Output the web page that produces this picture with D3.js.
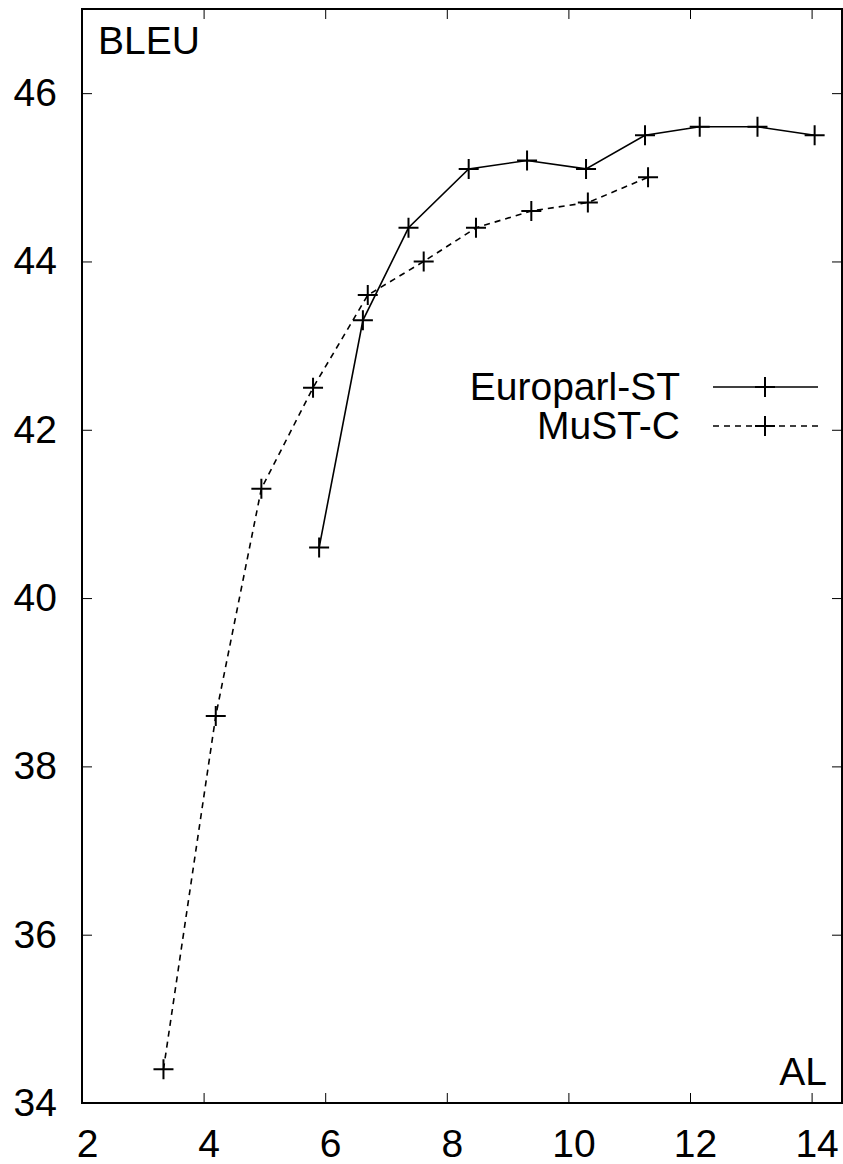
<!DOCTYPE html>
<html>
<head>
<meta charset="utf-8">
<script src="https://cdn.jsdelivr.net/npm/d3@7"></script>
<style>
  body { margin: 0; background: #fff; }
  text { font-family: "Liberation Sans", Arial, sans-serif; fill: #000; }
</style>
</head>
<body>
<div class="chart"></div>
<script>
"use strict";

// DATA ----------------------------
const seriesNames = ["Europarl-ST", "MuST-C"];
const europarlAL = [5.9, 6.62, 7.37, 8.36, 9.32, 10.29, 11.26, 12.16, 13.11, 14.05];
const europarlBLEU = [40.6, 43.3, 44.4, 45.1, 45.2, 45.1, 45.5, 45.6, 45.6, 45.5];
const mustcAL = [3.34, 4.2, 4.95, 5.8, 6.7, 7.62, 8.48, 9.39, 10.32, 11.31];
const mustcBLEU = [34.4, 38.6, 41.3, 42.5, 43.6, 44.0, 44.4, 44.6, 44.7, 45.0];
const xTicks = [2, 4, 6, 8, 10, 12, 14];
const yTicks = [34, 36, 38, 40, 42, 44, 46];

const W = 843, H = 1164;
const MARGIN = { top: 9, right: 1, bottom: 61, left: 82 };
const WIDTH = W - MARGIN.left - MARGIN.right,
  HEIGHT = H - MARGIN.top - MARGIN.bottom;
const FONT = 39;

const svg = d3
  .select(".chart")
  .append("svg")
  .attr("width", W)
  .attr("height", H)
  .append("g")
  .attr("transform", `translate(${MARGIN.left},${MARGIN.top})`);

const xScale = d3.scaleLinear().domain([2, 14.5]).range([0, WIDTH]);
const yScale = d3.scaleLinear().domain([34, 47]).range([HEIGHT, 0]);

// Axes (ticks point inward, mirrored on top/right)
function styleAxis(g) {
  g.select(".domain").remove();
  g.selectAll(".tick line").attr("stroke", "#000").attr("stroke-width", 1);
  g.selectAll(".tick text").style("font-size", FONT + "px").attr("fill", "#000");
}

svg.append("g")
  .attr("transform", `translate(0,${HEIGHT})`)
  .call(d3.axisBottom(xScale).tickValues(xTicks).tickSize(-10).tickPadding(26))
  .call(styleAxis)
  .selectAll(".tick text").attr("dx", 5);

svg.append("g")
  .call(d3.axisTop(xScale).tickValues(xTicks).tickSize(-10).tickFormat(""))
  .call(styleAxis);

svg.append("g")
  .call(d3.axisLeft(yScale).tickValues(yTicks).tickSize(-10).tickPadding(25))
  .call(styleAxis);

svg.append("g")
  .attr("transform", `translate(${WIDTH},0)`)
  .call(d3.axisRight(yScale).tickValues(yTicks).tickSize(-10).tickFormat(""))
  .call(styleAxis);

// Frame
svg.append("rect")
  .attr("x", 0).attr("y", 0)
  .attr("width", WIDTH).attr("height", HEIGHT)
  .attr("fill", "none")
  .attr("stroke", "#000")
  .attr("stroke-width", 2);

// Axis labels inside the frame
svg.append("text")
  .attr("x", 16).attr("y", 45)
  .style("font-size", FONT + "px")
  .text("BLEU");

svg.append("text")
  .attr("x", WIDTH - 15).attr("y", HEIGHT - 18)
  .attr("text-anchor", "end")
  .style("font-size", FONT + "px")
  .text("AL");

// Series
const series = [
  { name: seriesNames[0], xs: europarlAL, ys: europarlBLEU, dash: null },
  { name: seriesNames[1], xs: mustcAL, ys: mustcBLEU, dash: "6,5" },
];

const line = d3.line().x((d) => xScale(d[0])).y((d) => yScale(d[1]));
const plus = (g, cx, cy) => {
  g.append("path")
    .attr("d", `M${cx - 10},${cy}H${cx + 10}M${cx},${cy - 10}V${cy + 10}`)
    .attr("stroke", "#000")
    .attr("stroke-width", 2)
    .attr("fill", "none");
};

series.forEach((s, i) => {
  const pts = s.xs.map((x, j) => [x, s.ys[j]]);
  const g = svg.append("g");
  g.append("path")
    .datum(pts)
    .attr("d", line)
    .attr("fill", "none")
    .attr("stroke", "#000")
    .attr("stroke-width", 1.6)
    .attr("stroke-dasharray", s.dash);
  pts.forEach((p) => plus(g, xScale(p[0]), yScale(p[1])));

  // Legend entry
  const ly = 387 - MARGIN.top + i * 39;
  const lg = svg.append("g");
  lg.append("text")
    .attr("x", 680 - MARGIN.left)
    .attr("y", ly + 13)
    .attr("text-anchor", "end")
    .style("font-size", FONT + "px")
    .text(s.name);
  lg.append("line")
    .attr("x1", 713 - MARGIN.left).attr("x2", 818 - MARGIN.left)
    .attr("y1", ly).attr("y2", ly)
    .attr("stroke", "#000")
    .attr("stroke-width", 1.6)
    .attr("stroke-dasharray", s.dash);
  plus(lg, 765 - MARGIN.left, ly);
});
</script>
</body>
</html>
